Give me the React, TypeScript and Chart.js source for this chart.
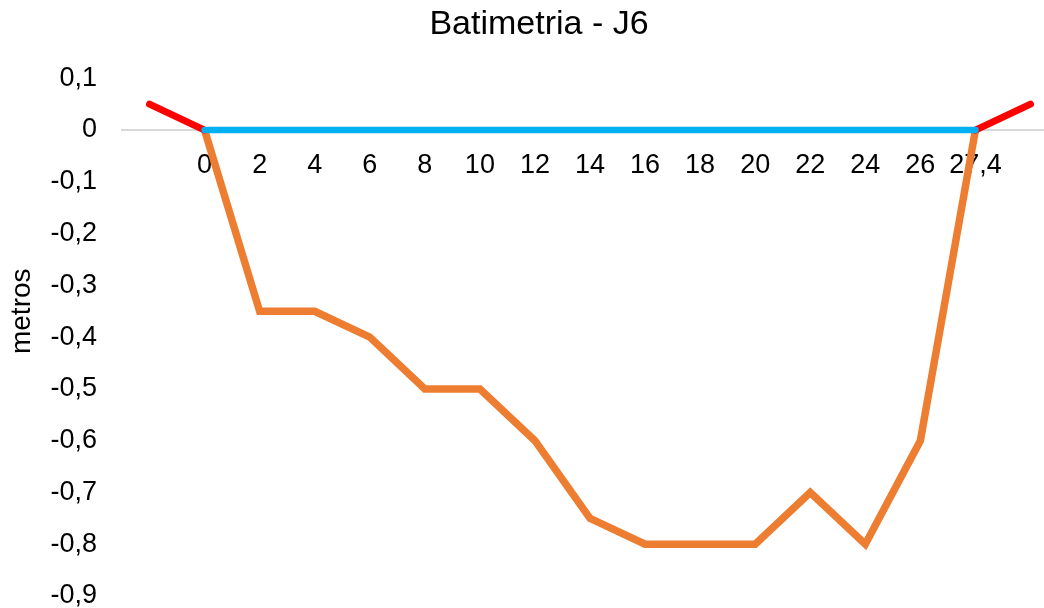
import React, { useEffect, useRef } from "react";
import { Chart, registerables } from "chart.js";

Chart.register(...registerables);

const categories = ["", "0", "2", "4", "6", "8", "10", "12", "14", "16", "18", "20", "22", "24", "26", "27,4", ""];
const fondo = [null, 0, -0.35, -0.35, -0.4, -0.5, -0.5, -0.6, -0.75, -0.8, -0.8, -0.8, -0.7, -0.8, -0.6, 0, null];
const superficie = [null, 0, 0, 0, 0, 0, 0, 0, 0, 0, 0, 0, 0, 0, 0, 0, null];
const margens = [0.05, 0, null, null, null, null, null, null, null, null, null, null, null, null, null, 0, 0.05];
const yMin = -0.9;
const yMax = 0.2;
const yStep = 0.1;
const chartTitle = "Batimetria - J6";
const yTitle = "metros";

const FONT = "'Liberation Sans', Arial, sans-serif";

export default function App() {
  const ref = useRef<HTMLCanvasElement | null>(null);
  useEffect(() => {
    const canvas = ref.current;
    if (!canvas) return;
    const chart = new Chart(canvas, {
      type: "line",
      data: {
        labels: categories,
        datasets: [
          {
            label: "superficie",
            data: superficie,
            borderColor: "#00B0F0",
            borderWidth: 6.5,
            pointRadius: 0,
            borderCapStyle: "round",
            borderJoinStyle: "round",
            tension: 0,
          },
          {
            label: "margens",
            data: margens,
            borderColor: "#FF0000",
            borderWidth: 7,
            pointRadius: 0,
            borderCapStyle: "round",
            borderJoinStyle: "round",
            spanGaps: false,
            tension: 0,
          },
          {
            label: "fondo",
            data: fondo,
            borderColor: "#ED7D31",
            borderWidth: 7.5,
            pointRadius: 0,
            borderCapStyle: "butt",
            borderJoinStyle: "miter",
            tension: 0,
          },
        ],
      },
      options: {
        animation: false,
        responsive: false,
        devicePixelRatio: 1,
        layout: { padding: { left: 20, right: 20, top: 0, bottom: 12 } },
        plugins: {
          legend: { display: false },
          tooltip: { enabled: false },
          title: {
            display: true,
            text: chartTitle,
            color: "#000",
            font: { family: FONT, size: 34, weight: "normal", lineHeight: 1.2 },
            padding: { top: 4.6, bottom: -18.9 },
          },
        },
        scales: {
          x: {
            type: "category",
            position: { y: 0 },
            offset: true,
            grid: { display: false, drawTicks: false },
            border: { display: true, color: "#D9D9D9", width: 2 },
            ticks: {
              autoSkip: false,
              maxRotation: 0,
              minRotation: 0,
              padding: 19,
              color: "#000",
              font: { family: FONT, size: 27, lineHeight: 1.2 },
            },
            afterFit: (s: any) => {
              s.height = 0;
              s.paddingLeft = 0;
              s.paddingRight = 0;
            },
          },
          y: {
            type: "linear",
            position: "left",
            min: yMin,
            max: yMax,
            grid: { display: false, drawTicks: false },
            border: { display: false },
            ticks: {
              stepSize: yStep,
              autoSkip: false,
              padding: 25,
              color: "#000",
              font: { family: FONT, size: 27, lineHeight: 1.2 },
              callback: (v: any) => {
                const r = Math.round(Number(v) * 10) / 10;
                if (r > 0.15) return "";
                if (r === 0) return "0";
                return String(r).replace(".", ",");
              },
            },
            title: {
              display: true,
              text: yTitle,
              color: "#000",
              font: { family: FONT, size: 28, lineHeight: 1.2 },
              padding: { top: -15, bottom: 0 },
            },
            afterFit: (s: any) => {
              s.width = 102;
              s.paddingTop = 0;
              s.paddingBottom = 0;
            },
          },
        },
      },
    } as any);
    return () => chart.destroy();
  }, []);

  return (
    <div
      style={{
        position: "fixed",
        left: 0,
        top: 0,
        width: 1044,
        height: 608,
        overflow: "hidden",
        background: "#fff",
      }}
    >
      <canvas ref={ref} width={1078} height={608} style={{ display: "block", width: 1078, height: 608 }} />
    </div>
  );
}
